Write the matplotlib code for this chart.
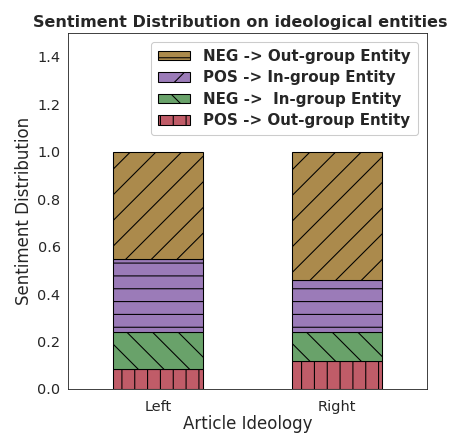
import numpy as np
import matplotlib
matplotlib.use("Agg")
import matplotlib.pyplot as plt
from matplotlib.patches import Patch
import seaborn as sns

ideology = ["Left", "Right"]
pos_out = [0.083, 0.118]
neg_in = [0.159, 0.121]
pos_in = [0.305, 0.221]
neg_out = [0.453, 0.540]

series = [
    ("POS -> Out-group Entity", pos_out, "#c05c68", "|"),
    ("NEG ->  In-group Entity", neg_in, "#69a26a", "\\"),
    ("POS -> In-group Entity", pos_in, "#9b7bb8", "-"),
    ("NEG -> Out-group Entity", neg_out, "#ab8a4c", "/"),
]

sns.set_style("white")
plt.rcParams["font.family"] = ["DejaVu Sans"]
plt.rcParams["hatch.linewidth"] = 1.0

fig, ax = plt.subplots(figsize=(463 / 77, 433 / 77), dpi=77)
x = np.arange(len(ideology))
bottom = np.zeros(len(ideology))
for label, vals, color, hatch in series:
    ax.bar(x, vals, 0.5, bottom=bottom, color=color, hatch=hatch,
           edgecolor="black", linewidth=1.0)
    bottom += np.array(vals)

# legend hatches as drawn in the original figure
legend_items = [
    ("NEG -> Out-group Entity", "#ab8a4c", "-"),
    ("POS -> In-group Entity", "#9b7bb8", "/"),
    ("NEG ->  In-group Entity", "#69a26a", "\\"),
    ("POS -> Out-group Entity", "#c05c68", "|"),
]
handles = [Patch(facecolor=c, edgecolor="black", hatch=h, label=l) for l, c, h in legend_items]
ax.legend(handles=handles, loc="upper right", prop={"weight": "bold", "size": 14.2},
          handlelength=2.1, handleheight=0.6, borderaxespad=0.6, framealpha=1,
          labelspacing=0.42, handletextpad=0.9, borderpad=0.45)

ax.set_xticks(x)
ax.set_xticklabels(ideology, fontsize=13.5)
ax.tick_params(axis="y", labelsize=13.5)
ax.tick_params(axis="x", pad=7)
ax.set_xlim(-0.5, 1.5)
ax.set_ylim(0, 1.5)
ax.set_xlabel("Article Ideology", fontsize=15.5, labelpad=1)
ax.set_ylabel("Sentiment Distribution", fontsize=15.5)
ax.set_title("Sentiment Distribution on ideological entities", fontsize=15,
             fontweight="bold", x=0.48)
fig.subplots_adjust(left=68 / 463, right=427 / 463, top=1 - 33 / 433, bottom=1 - 389 / 433)
fig.savefig("out.png", dpi=77)
